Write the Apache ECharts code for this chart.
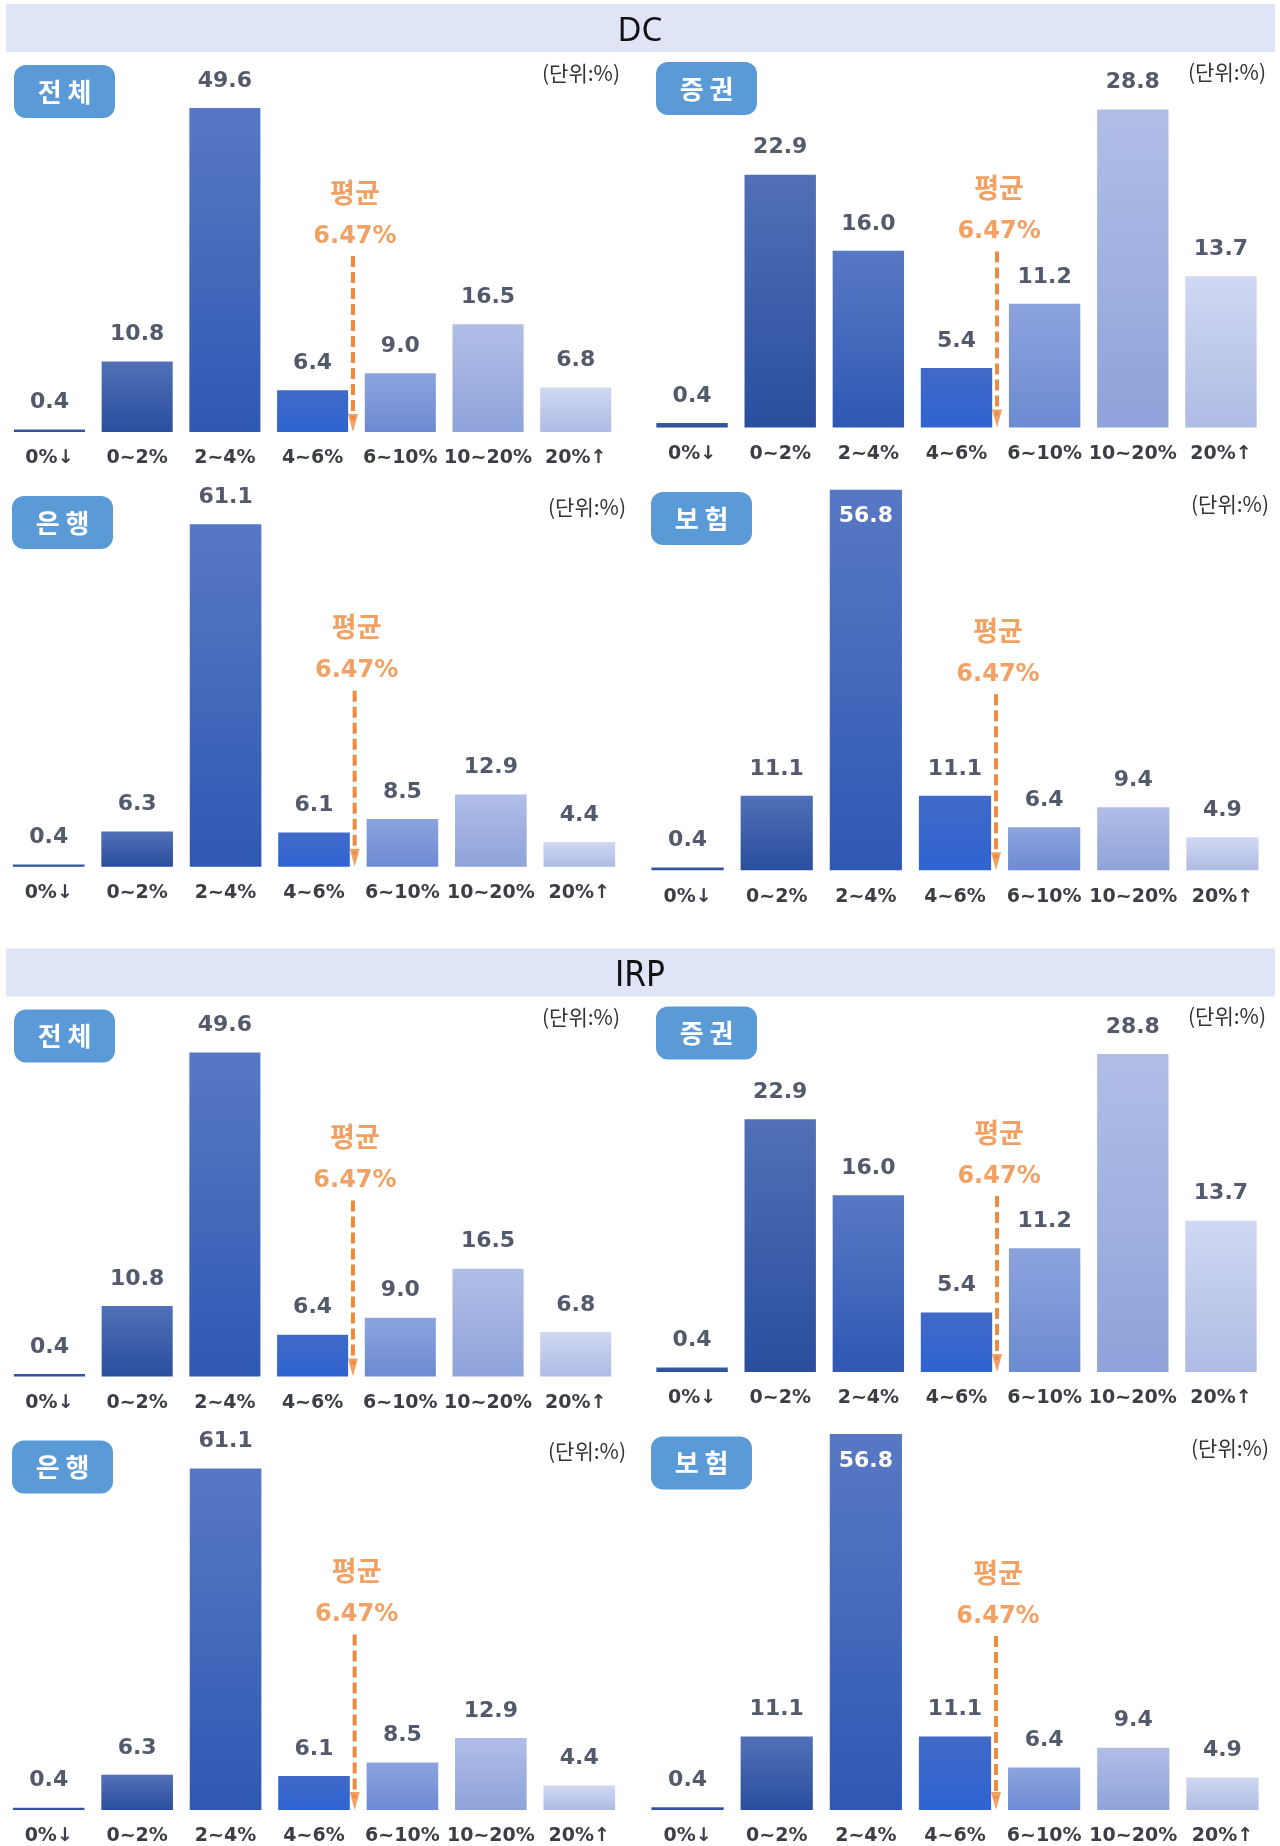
<!DOCTYPE html>
<html>
<head>
<meta charset="utf-8">
<script src="https://cdn.jsdelivr.net/npm/echarts@6/dist/echarts.min.js"></script>
<style>
  html, body { margin: 0; padding: 0; background: #ffffff; }
  #chart { width: 1280px; height: 1846px; }
</style>
</head>
<body>
<div id="chart"></div>
<script>
// Return-rate bins (x axis)
const categories = ['0%↓', '0~2%', '2~4%', '4~6%', '6~10%', '10~20%', '20%↑'];

// DC: share of accounts per return bin (%)
const dcTotal      = [0.4, 10.8, 49.6, 6.4, 9.0, 16.5, 6.8];
const dcSecurities = [0.4, 22.9, 16.0, 5.4, 11.2, 28.8, 13.7];
const dcBank       = [0.4, 6.3, 61.1, 6.1, 8.5, 12.9, 4.4];
const dcInsurance  = [0.4, 11.1, 56.8, 11.1, 6.4, 9.4, 4.9];

// IRP: share of accounts per return bin (%)
const irpTotal      = [0.4, 10.8, 49.6, 6.4, 9.0, 16.5, 6.8];
const irpSecurities = [0.4, 22.9, 16.0, 5.4, 11.2, 28.8, 13.7];
const irpBank       = [0.4, 6.3, 61.1, 6.1, 8.5, 12.9, 4.4];
const irpInsurance  = [0.4, 11.1, 56.8, 11.1, 6.4, 9.4, 4.9];

// Titles and annotation text
const sectionTitles = ['DC', 'IRP'];
const panelTitles = ['전 체', '증 권', '은 행', '보 험'];
const unitLabel = '(단위:%)';
const averageLabel = '평균';
const averageReturn = 6.47;

const sectionData = [
  [dcTotal, dcSecurities, dcBank, dcInsurance],
  [irpTotal, irpSecurities, irpBank, irpInsurance]
];

// ---- layout & styling ----
const sectionOffset = [0, 944.5];
const bannerTop = 4, bannerHeight = 48;
const bannerFonts = [
  { family: '"Noto Sans", "DejaVu Sans", sans-serif', size: 33, dy: 4 },
  { family: '"Liberation Sans Narrow", "DejaVu Sans Condensed", sans-serif', size: 35, dy: 4 }
];

// per panel: band left/width, baseline y, pixels per percent, badge and unit-label anchors
const panelLayout = [
  { left: 5.6, width: 614, baseline: 432,   scale: 6.53,  badge: [14, 65],  unit: [620, 73],  rowTop: 42 },
  { left: 648, width: 617, baseline: 427.5, scale: 11.04, badge: [656, 62], unit: [1266, 72], rowTop: 37 },
  { left: 4.5, width: 619, baseline: 866.7, scale: 5.605, badge: [12, 496], unit: [626, 507], rowTop: 477 },
  { left: 643, width: 624, baseline: 870.2, scale: 6.70,  badge: [651, 492], unit: [1269, 504], rowTop: 480 }
];
const gridHeight = 400;

const barGradients = [
  ['#3c5ba6', '#2c4c97'],
  ['#5170b6', '#2a4e9e'],
  ['#5878c4', '#2f58b3'],
  ['#4169c7', '#2f64d2'],
  ['#8ca3dd', '#6d8bd3'],
  ['#b0bee7', '#8fa3da'],
  ['#d0d8f2', '#aebbe3']
];
const orange = '#ef8a3f';
const numFont = '"DejaVu Sans", "Noto Sans CJK KR", sans-serif';
const krFont = '"Noto Sans CJK KR", "Noto Sans", sans-serif';
const arrowPos = 3.46;      // between the 4~6% and 6~10% bins, in category units
const arrowTopPx = 176;     // dashed arrow starts this far above the baseline

function gradient(pair) {
  return new echarts.graphic.LinearGradient(0, 0, 0, 1, [
    { offset: 0, color: pair[0] },
    { offset: 1, color: pair[1] }
  ]);
}

const grids = [], xAxes = [], yAxes = [], series = [], graphics = [];

sectionTitles.forEach((title, s) => {
  const off = sectionOffset[s];
  const font = bannerFonts[s];
  graphics.push({
    type: 'rect', silent: true,
    shape: { x: 6, y: bannerTop + off, width: 1269, height: bannerHeight },
    style: { fill: '#dfe5f6' }
  });
  graphics.push({
    type: 'text', silent: true, x: 640, y: bannerTop + off + bannerHeight / 2 + font.dy,
    style: { text: title, fill: '#111111', font: `${font.size}px ${font.family}`, align: 'center', verticalAlign: 'middle' }
  });

  panelLayout.forEach((p, k) => {
    const values = sectionData[s][k];
    const gi = grids.length;
    const baseline = p.baseline + off;
    grids.push({ left: p.left, width: p.width, top: baseline - gridHeight, height: gridHeight });

    xAxes.push({
      type: 'category', gridIndex: gi, data: categories,
      axisLine: { show: false }, axisTick: { show: false }, splitLine: { show: false },
      axisLabel: { margin: 17, color: '#3b3e45', fontSize: 19, fontWeight: 'bold', fontFamily: numFont, interval: 0 }
    });
    xAxes.push({ type: 'value', gridIndex: gi, min: -0.5, max: 6.5, show: false });
    yAxes.push({ type: 'value', gridIndex: gi, min: 0, max: gridHeight / p.scale, show: false });

    const xCat = gi * 2, xVal = gi * 2 + 1;

    series.push({
      type: 'bar', xAxisIndex: xCat, yAxisIndex: gi,
      barCategoryGap: '19%',
      data: values.map((v, i) => {
        const headroom = (p.baseline - v * p.scale) - p.rowTop;
        const inside = headroom < 35;
        return {
          value: v,
          itemStyle: { color: gradient(barGradients[i]) },
          label: inside
            ? { position: 'insideTop', distance: 16, color: '#ffffff' }
            : { position: 'top', distance: 16, color: '#535a6b' }
        };
      }),
      label: {
        show: true, fontSize: 22, fontWeight: 'bold', fontFamily: numFont,
        formatter: (d) => d.value.toFixed(1)
      },
      silent: true
    });

    // average marker: dashed orange arrow with caption
    const yTop = arrowTopPx / p.scale;
    series.push({
      type: 'line', xAxisIndex: xVal, yAxisIndex: gi, silent: true, z: 5,
      symbol: 'none',
      data: [[arrowPos, yTop], [arrowPos, 12 / p.scale]],
      lineStyle: { color: orange, width: 4, type: [11, 5] }
    });
    series.push({
      type: 'scatter', xAxisIndex: xVal, yAxisIndex: gi, silent: true, z: 6,
      data: [
        {
          value: [arrowPos, yTop], symbolSize: 1, itemStyle: { color: 'rgba(0,0,0,0)' },
          label: {
            show: true, position: 'top', distance: 0, offset: [2, 2],
            formatter: `{k|${averageLabel}}\n{a|${averageReturn.toFixed(2)}%}`,
            rich: {
              k: { color: orange, fontSize: 27, fontWeight: 'bold', fontFamily: krFont, lineHeight: 46, align: 'center' },
              a: { color: orange, fontSize: 24, fontWeight: 'bold', fontFamily: numFont, lineHeight: 42, align: 'center' }
            }
          }
        },
        {
          value: [arrowPos, 9 / p.scale], symbol: 'triangle', symbolRotate: 180, symbolSize: [10, 18],
          itemStyle: { color: orange }, label: { show: false }
        }
      ]
    });

    // panel badge
    graphics.push({
      type: 'rect', silent: true,
      shape: { x: p.badge[0], y: p.badge[1] + off, width: 101, height: 53, r: 12 },
      style: { fill: '#5a9ad7' }
    });
    graphics.push({
      type: 'text', silent: true, x: p.badge[0] + 50.5, y: p.badge[1] + off + 27,
      style: { text: panelTitles[k], fill: '#ffffff', font: `bold 26px ${krFont}`, align: 'center', verticalAlign: 'middle' }
    });
    // unit label
    graphics.push({
      type: 'text', silent: true, x: p.unit[0], y: p.unit[1] + off,
      style: { text: unitLabel, fill: '#333333', font: `21px ${krFont}`, align: 'right', verticalAlign: 'middle' }
    });
  });
});

const chart = echarts.init(document.getElementById('chart'), null, { renderer: 'canvas' });
chart.setOption({
  backgroundColor: '#ffffff',
  animation: false,
  grid: grids,
  xAxis: xAxes,
  yAxis: yAxes,
  series: series,
  graphic: graphics
});
</script>
</body>
</html>
